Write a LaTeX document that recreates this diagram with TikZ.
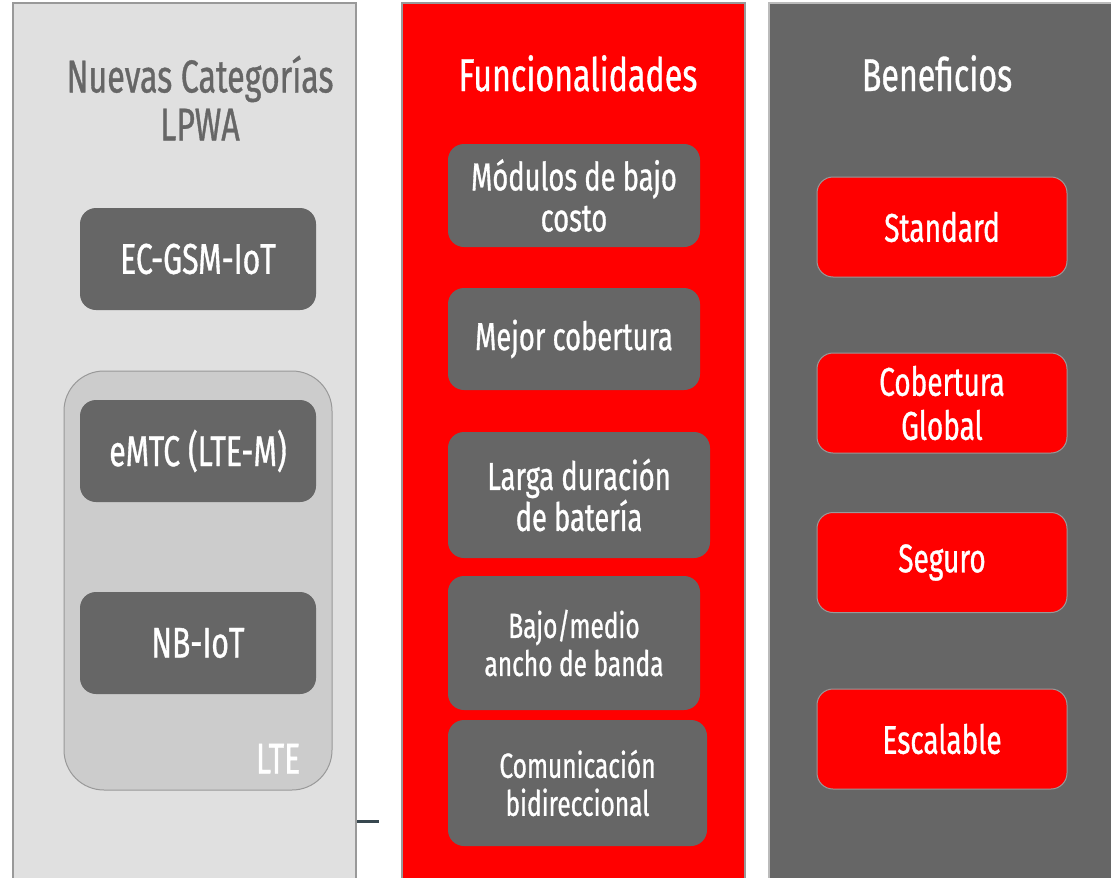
\documentclass[tikz,border=0pt]{standalone}
\usepackage{fontspec}
\setmainfont{Fira Sans}[FakeStretch=0.7, FakeBold=0.8]
\usetikzlibrary{positioning}

\definecolor{boxgray}{HTML}{666666}
\definecolor{panelgray}{HTML}{E0E0E0}
\definecolor{ltegray}{HTML}{CCCCCC}
\definecolor{edgegray}{HTML}{999999}
\definecolor{paleedge}{HTML}{BBBBBB}
\definecolor{brightred}{HTML}{FF0000}
\definecolor{slate}{HTML}{37474F}

\newcommand{\titlefont}{\fontsize{46}{48}\selectfont}
\newcommand{\bigfont}{\fontsize{43}{45}\selectfont}
\newcommand{\midfont}{\fontsize{39}{41}\selectfont}
\newcommand{\smallfont}{\fontsize{35}{38}\selectfont}
\newcommand{\benefont}{\fontsize{40}{44}\selectfont}

\tikzset{
  panel/.style={draw=#1, line width=2pt},
  darkbox/.style={rectangle, rounded corners=16pt, fill=boxgray, text=white,
                  align=center, inner sep=0pt},
  redbox/.style={rectangle, rounded corners=16pt, fill=brightred, draw=edgegray,
                 line width=1pt, text=white, align=center, inner sep=0pt,
                 minimum width=250pt, minimum height=100pt, font=\benefont},
  title/.style={align=center, inner sep=0pt, font=\titlefont}
}

\begin{document}
\begin{tikzpicture}[x=1pt, y=-1pt]
        \clip (0,0) rectangle (1111,878);
        \fill[white] (0,0) rectangle (1111,878);
        % Columns
        \draw[panel=edgegray, fill=panelgray] (13,3) rectangle (356,900);
        \draw[panel=edgegray, fill=brightred] (402,3) rectangle (745,900);
        \draw[panel=paleedge, fill=boxgray] (769,3) rectangle (1120,900);
        \draw[slate, line width=3pt] (357,821) -- (379,821);

        % Nuevas categorias
        \node[title, text=boxgray] (cattitle) at (200,98) {Nuevas Categorías\\LPWA};
        \node[darkbox, minimum width=236pt, minimum height=102pt, font=\bigfont]
            (ecgsm) at (198,259) {EC-GSM-IoT};
        \node[rectangle, rounded corners=40pt, fill=ltegray, draw=edgegray, line width=1pt,
              minimum width=268pt, minimum height=419pt] (lte) at (198,580.5) {};
        \node[darkbox, minimum width=236pt, minimum height=102pt, font=\bigfont]
            (emtc) at (198,451) {eMTC (LTE-M)};
        \node[darkbox, minimum width=236pt, minimum height=102pt, font=\bigfont]
            (nbiot) at (198,643) {NB-IoT};
        \node[anchor=base east, inner sep=0pt, text=white, font=\bigfont]
            (ltelabel) at ([xshift=-32pt, yshift=17pt]lte.south east) {LTE};

        % Funcionalidades
        \node[title, text=white, anchor=base] (functitle) at (578,91) {Funcionalidades};
        \node[darkbox, minimum width=252pt, minimum height=103pt, font=\midfont]
            (modulos) at (574,195.5) {Módulos de bajo\\costo};
        \node[darkbox, minimum width=252pt, minimum height=102pt, font=\midfont]
            (cobertura) at (574,339) {Mejor cobertura};
        \node[darkbox, minimum width=262pt, minimum height=126pt, font=\midfont]
            (bateria) at (579,495) {Larga duración\\de batería};
        \node[darkbox, minimum width=252pt, minimum height=134pt, font=\smallfont]
            (banda) at (574,643) {Bajo/medio\\ancho de banda};
        \node[darkbox, minimum width=259pt, minimum height=126pt, font=\smallfont]
            (comunic) at (577.5,783) {Comunicación\\bidireccional};

        % Beneficios
        \node[title, text=white, anchor=base] (benetitle) at (937,91) {Beneficios};
        \node[redbox] (standard) at (942,227) {Standard};
        \node[redbox] (global) at (942,403) {Cobertura\\Global};
        \node[redbox] (seguro) at (942,562.5) {Seguro};
        \node[redbox] (escalable) at (942,739) {Escalable};
\end{tikzpicture}
\end{document}
